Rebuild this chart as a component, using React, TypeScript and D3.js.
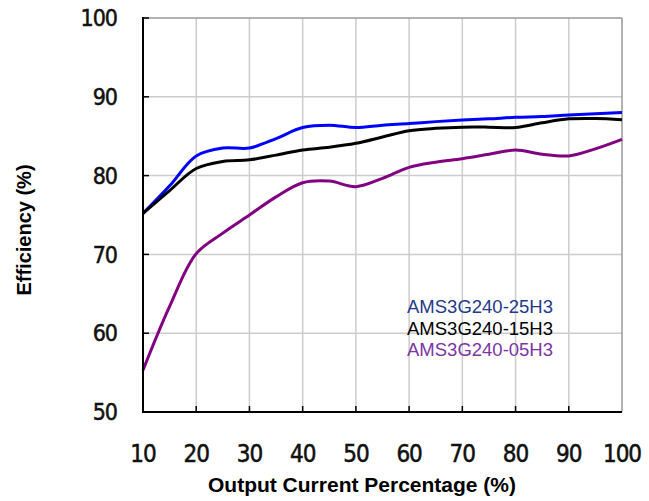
import React from 'react';
import * as d3 from 'd3';

// Output current percentage (%) sampled along the curves
const currentPct = [10, 15, 20, 25, 30, 35, 40, 45, 50, 55, 60, 65, 70, 75, 80, 85, 90, 95, 100];

// Efficiency (%) per model
const eff25H3 = [75.2, 78.7, 82.5, 83.5, 83.5, 84.7, 86.1, 86.4, 86.1, 86.4, 86.6, 86.85, 87.05, 87.2, 87.4, 87.5, 87.7, 87.85, 88.0];
const eff15H3 = [75.2, 78.1, 80.9, 81.8, 82.0, 82.6, 83.25, 83.6, 84.1, 84.9, 85.7, 86.0, 86.15, 86.15, 86.1, 86.7, 87.2, 87.25, 87.1];
const eff05H3 = [55.3, 63.4, 70.1, 72.7, 75.0, 77.3, 79.1, 79.3, 78.6, 79.65, 81.05, 81.7, 82.15, 82.7, 83.25, 82.7, 82.5, 83.4, 84.6];

const xTicks = [10, 20, 30, 40, 50, 60, 70, 80, 90, 100];
const yTicks = [50, 60, 70, 80, 90, 100];

const seriesNames = ['AMS3G240-25H3', 'AMS3G240-15H3', 'AMS3G240-05H3'];
const lineColors = ['#0000ff', '#000000', '#800080'];
const legendColors = ['#1f3a8a', '#000000', '#7a35a6'];

const W = 649;
const H = 501;
const left = 143;
const right = 622;
const top = 18;
const bottom = 412;

const App: React.FC = () => {
  const x = d3.scaleLinear().domain([10, 100]).range([left, right]);
  const y = d3.scaleLinear().domain([50, 100]).range([bottom, top]);

  const line = d3
    .line<[number, number]>()
    .x((d) => x(d[0]))
    .y((d) => y(d[1]))
    .curve(d3.curveCatmullRom.alpha(0.5));

  const series = [eff25H3, eff15H3, eff05H3].map((vals) =>
    currentPct.map((c, i) => [c, vals[i]] as [number, number])
  );

  const tickFont = '"Liberation Sans Narrow", "DejaVu Sans Condensed", sans-serif';

  return (
    <div style={{ position: 'absolute', left: 0, top: 0 }}>
      <svg width={W} height={H} style={{ display: 'block', background: '#fff' }}>
        {/* grid */}
        {xTicks.slice(1, -1).map((t) => (
          <line key={'gx' + t} x1={x(t)} x2={x(t)} y1={top} y2={bottom} stroke="#cccccc" strokeWidth={1.5} />
        ))}
        {yTicks.slice(1, -1).map((t) => (
          <line key={'gy' + t} x1={left} x2={right} y1={y(t)} y2={y(t)} stroke="#cccccc" strokeWidth={1.5} />
        ))}
        {/* top/right frame */}
        <line x1={left} x2={right} y1={top} y2={top} stroke="#999" strokeWidth={1.5} />
        <line x1={right} x2={right} y1={top} y2={bottom} stroke="#999" strokeWidth={1.5} />

        {/* curves */}
        {series.map((s, i) => (
          <path key={seriesNames[i]} d={line(s) || ''} fill="none" stroke={lineColors[i]} strokeWidth={3} strokeLinejoin="round" />
        ))}

        {/* axes */}
        <line x1={left} x2={left} y1={top - 1} y2={bottom + 1} stroke="#000" strokeWidth={2} />
        <line x1={left - 1} x2={right} y1={bottom} y2={bottom} stroke="#000" strokeWidth={2} />
        {yTicks.map((t) => (
          <line key={'ty' + t} x1={left} x2={left + 6} y1={y(t)} y2={y(t)} stroke="#000" strokeWidth={1.5} />
        ))}
        {xTicks.slice(1, -1).map((t) => (
          <line key={'tx' + t} x1={x(t)} x2={x(t)} y1={bottom} y2={bottom - 6} stroke="#000" strokeWidth={1.5} />
        ))}

        {/* tick labels */}
        {yTicks.map((t) => (
          <text key={'ly' + t} x={117} y={y(t)} dy="0.36em" textAnchor="end" fontFamily={tickFont} fontSize={23} fill="#111" stroke="#111" strokeWidth={0.5} letterSpacing={-1}>
            {t}
          </text>
        ))}
        {xTicks.map((t) => (
          <text key={'lx' + t} x={x(t)} y={462} textAnchor="middle" fontFamily={tickFont} fontSize={24} fill="#111" stroke="#111" strokeWidth={0.5} letterSpacing={-1}>
            {t}
          </text>
        ))}

        {/* axis titles */}
        <text x={362} y={492} textAnchor="middle" fontFamily="Arial, 'Liberation Sans', sans-serif" fontWeight="bold" fontSize={21} fill="#000">
          Output Current Percentage (%)
        </text>
        <text
          transform={`translate(31,230) rotate(-90)`}
          textAnchor="middle"
          fontFamily="Arial, 'Liberation Sans', sans-serif"
          fontWeight="bold"
          fontSize={20}
          fill="#000"
        >
          Efficiency (%)
        </text>

        {/* legend */}
        {seriesNames.map((n, i) => (
          <text key={'lg' + n} x={407} y={313 + i * 21.7} fontFamily="Arial, 'Liberation Sans', sans-serif" fontSize={18.5} fill={legendColors[i]}>
            {n}
          </text>
        ))}
      </svg>
    </div>
  );
};

export default App;
